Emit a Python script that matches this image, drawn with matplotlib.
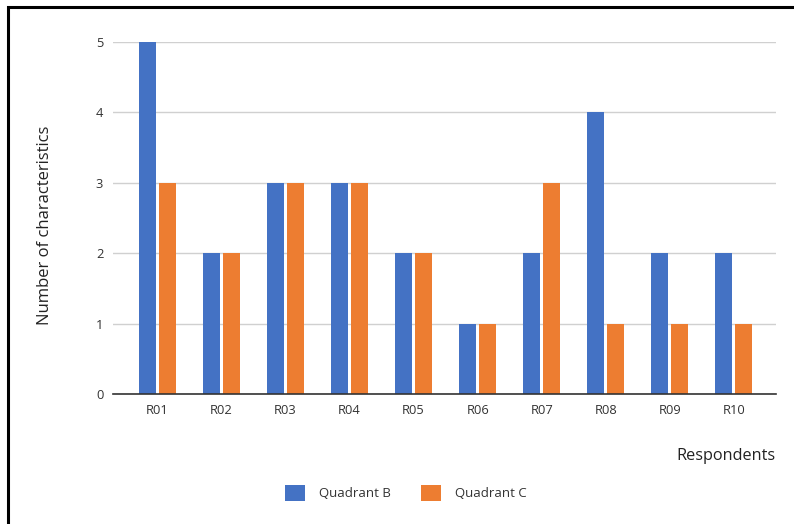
import matplotlib.pyplot as plt
import numpy as np
from matplotlib.patches import Rectangle

# Characteristics counted per respondent
respondents = ["R01", "R02", "R03", "R04", "R05", "R06", "R07", "R08", "R09", "R10"]
quadrant_b = [5, 2, 3, 3, 2, 1, 2, 4, 2, 2]
quadrant_c = [3, 2, 3, 3, 2, 1, 3, 1, 1, 1]

blue = "#4472C4"
orange = "#ED7D31"

plt.rcParams["font.family"] = ["Open Sans", "DejaVu Sans"]

W, H = 794, 524
fig = plt.figure(figsize=(W / 100, H / 100), dpi=100)
ax = fig.add_axes([113 / W, 1 - 394 / H, (776 - 113) / W, (394 - 42) / H])

x = np.arange(len(respondents))
bw = 0.266
ax.bar(x - 0.156, quadrant_b, bw, color=blue, label="Quadrant B")
ax.bar(x + 0.156, quadrant_c, bw, color=orange, label="Quadrant C")

ax.set_xlim(-0.695, 9.66)
ax.set_ylim(0, 5)
ax.set_yticks(range(0, 6))
ax.set_xticks(x)
ax.set_xticklabels(respondents)
ax.tick_params(axis="both", length=0, labelsize=9.3, colors="#333333")
ax.tick_params(axis="x", pad=7)
ax.tick_params(axis="y", pad=7)

ax.grid(axis="y", color="#d0d0d0", linewidth=1)
ax.set_axisbelow(True)
for s in ["top", "right", "left"]:
    ax.spines[s].set_visible(False)
ax.spines["bottom"].set_color("#333333")
ax.spines["bottom"].set_linewidth(1.2)
ax.spines["bottom"].set_zorder(3)

fig.text(45 / W, 1 - 225 / H, "Number of characteristics", rotation=90,
         ha="center", va="center", fontsize=12, color="#222222")
fig.text(776 / W, 1 - 456 / H, "Respondents", ha="right", va="center",
         fontsize=11.7, color="#222222")

ax.legend(loc="center", bbox_to_anchor=(406 / W, 1 - 493 / H),
          bbox_transform=fig.transFigure, ncol=2, frameon=False,
          fontsize=9.5, handlelength=1.5, handleheight=1.5,
          handletextpad=1.05, columnspacing=2.3, labelcolor="#333333")

# Outer frame around the chart
fig.patches.append(Rectangle((8 / W, -0.1), 1.2, 1 - 7 / H + 0.1,
                             transform=fig.transFigure, fill=False,
                             edgecolor="black", linewidth=2.2))

fig.savefig("out.png", dpi=100)
